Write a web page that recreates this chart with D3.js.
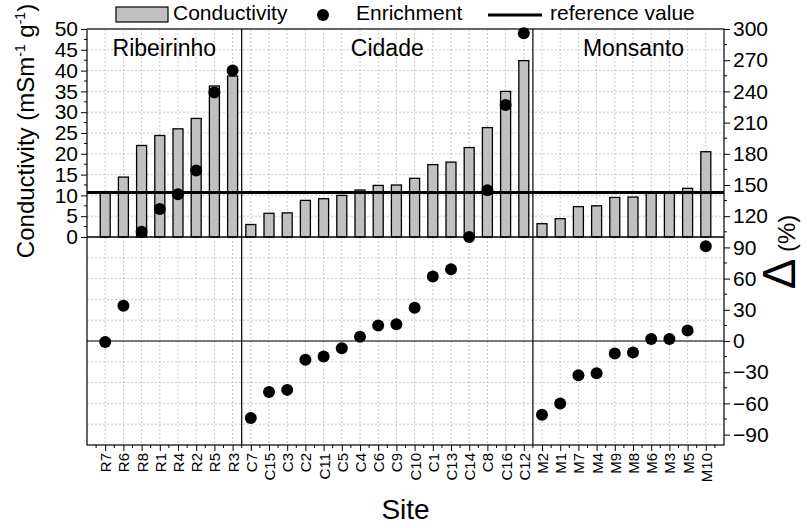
<!DOCTYPE html>
<html>
<head>
<meta charset="utf-8">
<script src="https://cdn.jsdelivr.net/npm/d3@7"></script>
<style>
  body { margin: 0; background: #fff; }
  svg text { font-family: "Liberation Sans", Arial, sans-serif; fill: #000; }
</style>
</head>
<body>
<div id="chart"></div>
<script>
// Sites, in plotted order
var sites = ["R7", "R6", "R8", "R1", "R4", "R2", "R5", "R3",
  "C7", "C15", "C3", "C2", "C11", "C5", "C4", "C6", "C9", "C10", "C1", "C13", "C14", "C8", "C16", "C12",
  "M2", "M1", "M7", "M4", "M9", "M8", "M6", "M3", "M5", "M10"];

// Conductivity (mS m-1 g-1), bars, left axis
var conductivity = [10.8, 14.4, 22.0, 24.4, 26.0, 28.5, 36.3, 38.7,
  3.0, 5.7, 5.8, 8.8, 9.2, 10.0, 11.3, 12.4, 12.5, 14.1, 17.4, 18.0, 21.5, 26.3, 35.0, 42.4,
  3.2, 4.4, 7.3, 7.5, 9.5, 9.6, 10.7, 10.7, 11.7, 20.5];

// Enrichment delta (%), dots, right axis
var enrichment = [-1, 34, 105, 127, 141, 164, 239, 260,
  -74, -49, -47, -18, -15, -7, 4, 15, 16, 32, 62, 69, 100, 145, 227, 296,
  -71, -60, -33, -31, -12, -11, 2, 2, 10, 91];

var groupNames = ["Ribeirinho", "Cidade", "Monsanto"];
var groupSizes = [8, 16, 10];
var referenceValue = 10.7;

var leftTicks = [0, 5, 10, 15, 20, 25, 30, 35, 40, 45, 50];
var rightTicks = [-90, -60, -30, 0, 30, 60, 90, 120, 150, 180, 210, 240, 270, 300];

var W = 807, H = 528;
var margin = { top: 29, right: 83, bottom: 83, left: 87 };
var width = W - margin.left - margin.right;
var height = H - margin.top - margin.bottom;

var svg = d3.select("#chart").append("svg")
  .attr("width", W)
  .attr("height", H);

var g = svg.append("g")
  .attr("transform", "translate(" + margin.left + "," + margin.top + ")");

// scales
var x = d3.scalePoint().domain(sites).range([0, width]).padding(1);
var step = x.step();
var yL = d3.scaleLinear().domain([-50, 50]).range([height, 0]);
var yR = d3.scaleLinear().domain([-100, 300]).range([height, 0]);

// grid (dotted)
var grid = g.append("g").attr("class", "grid");
grid.selectAll("line.v")
  .data(sites)
  .enter().append("line")
  .attr("x1", function(d) { return x(d); })
  .attr("x2", function(d) { return x(d); })
  .attr("y1", 0).attr("y2", height)
  .attr("stroke", "#c8c8c8").attr("stroke-width", 1).attr("stroke-dasharray", "2,2");
grid.selectAll("line.h")
  .data(d3.range(-45, 50, 5).filter(function(v) { return v !== 0; }))
  .enter().append("line")
  .attr("x1", 0).attr("x2", width)
  .attr("y1", function(d) { return yL(d); })
  .attr("y2", function(d) { return yL(d); })
  .attr("stroke", "#c8c8c8").attr("stroke-width", 1).attr("stroke-dasharray", "2,2");

// bars
g.selectAll("rect.bar")
  .data(conductivity)
  .enter().append("rect")
  .attr("class", "bar")
  .attr("x", function(d, i) { return x(sites[i]) - 5; })
  .attr("width", 10)
  .attr("y", function(d) { return yL(d); })
  .attr("height", function(d) { return yL(0) - yL(d); })
  .attr("fill", "#c0c0c0")
  .attr("stroke", "#000")
  .attr("stroke-width", 1.3);

// baselines
g.append("line")
  .attr("x1", 0).attr("x2", width)
  .attr("y1", yL(0)).attr("y2", yL(0))
  .attr("stroke", "#000").attr("stroke-width", 1.5);
g.append("line")
  .attr("x1", 0).attr("x2", width)
  .attr("y1", yR(0)).attr("y2", yR(0))
  .attr("stroke", "#000").attr("stroke-width", 1.2);

// group separators
var bounds = [];
var acc = 0;
groupSizes.forEach(function(n) { bounds.push([acc, acc + n - 1]); acc += n; });
bounds.slice(1).forEach(function(b) {
  var xs = x(sites[b[0]]) - step / 2;
  g.append("line")
    .attr("x1", xs).attr("x2", xs)
    .attr("y1", 0).attr("y2", height)
    .attr("stroke", "#000").attr("stroke-width", 1.2);
});

// group labels
groupNames.forEach(function(name, k) {
  var x0 = k === 0 ? 0 : x(sites[bounds[k][0]]) - step / 2;
  var x1 = k === groupNames.length - 1 ? width : x(sites[bounds[k][1]]) + step / 2;
  g.append("text")
    .attr("x", (x0 + x1) / 2 + (k === 2 ? 5 : 0))
    .attr("y", 27)
    .attr("text-anchor", "middle")
    .style("font-size", "23px")
    .text(name);
});

// reference line
g.append("line")
  .attr("x1", 0).attr("x2", width)
  .attr("y1", yL(referenceValue)).attr("y2", yL(referenceValue))
  .attr("stroke", "#000").attr("stroke-width", 3);

// enrichment dots
g.selectAll("circle.dot")
  .data(enrichment)
  .enter().append("circle")
  .attr("class", "dot")
  .attr("cx", function(d, i) { return x(sites[i]); })
  .attr("cy", function(d) { return yR(d); })
  .attr("r", 6)
  .attr("fill", "#000");

// frame
g.append("rect")
  .attr("width", width).attr("height", height)
  .attr("fill", "none").attr("stroke", "#000").attr("stroke-width", 1.2);

// left axis
var yAxisL = d3.axisLeft(yL).tickValues(leftTicks).tickSize(6).tickPadding(3);
var gl = g.append("g").call(yAxisL);
gl.select(".domain").remove();
gl.selectAll("text").style("font-size", "21px");
g.append("g").selectAll("line")
  .data(d3.range(2.5, 50, 5))
  .enter().append("line")
  .attr("x1", -3).attr("x2", 0)
  .attr("y1", function(d) { return yL(d); })
  .attr("y2", function(d) { return yL(d); })
  .attr("stroke", "#000");

// right axis
var yAxisR = d3.axisRight(yR).tickValues(rightTicks).tickSize(6).tickPadding(3);
var gr = g.append("g").attr("transform", "translate(" + width + ",0)").call(yAxisR);
gr.select(".domain").remove();
gr.selectAll("text").style("font-size", "21px");
gr.selectAll("line.minor")
  .data(d3.range(-90, 300, 30).map(function(v) { return v + 15; }))
  .enter().append("line")
  .attr("x1", 0).attr("x2", 3)
  .attr("y1", function(d) { return yR(d); })
  .attr("y2", function(d) { return yR(d); })
  .attr("stroke", "#000");

// bottom axis
var xAxis = d3.axisBottom(x).tickSize(6).tickPadding(3);
var gx = g.append("g").attr("transform", "translate(0," + height + ")").call(xAxis);
gx.select(".domain").remove();
gx.selectAll("text")
  .style("font-size", "15px")
  .style("text-anchor", "end")
  .attr("transform", "rotate(-90)")
  .attr("x", -8)
  .attr("y", 0)
  .attr("dy", "0.36em");
gx.selectAll("line.minor")
  .data(d3.range(0, sites.length + 1))
  .enter().append("line")
  .attr("x1", function(d) { return step / 2 + d * step; })
  .attr("x2", function(d) { return step / 2 + d * step; })
  .attr("y1", 0).attr("y2", 3)
  .attr("stroke", "#000");

// axis titles
svg.append("text")
  .attr("transform", "translate(34," + (margin.top + 102) + ") rotate(-90)")
  .attr("text-anchor", "middle")
  .style("font-size", "24px")
  .html('Conductivity (mSm<tspan dy="-9" font-size="14px">-1</tspan><tspan dy="9"> g</tspan><tspan dy="-9" font-size="14px">-1</tspan><tspan dy="9">)</tspan>');

svg.append("text")
  .attr("transform", "translate(795,252) rotate(-90)")
  .attr("text-anchor", "middle")
  .style("font-size", "24px")
  .html('<tspan font-size="46px">\u0394</tspan> (%)');

svg.append("text")
  .attr("x", margin.left + width / 2)
  .attr("y", 519)
  .attr("text-anchor", "middle")
  .style("font-size", "28px")
  .text("Site");

// legend
var lg = svg.append("g");
lg.append("rect")
  .attr("x", 116).attr("y", 7).attr("width", 52).attr("height", 15)
  .attr("fill", "#c0c0c0").attr("stroke", "#000").attr("stroke-width", 1.2);
lg.append("text").attr("x", 173).attr("y", 20).style("font-size", "21px").text("Conductivity");
lg.append("circle").attr("cx", 323).attr("cy", 15).attr("r", 6).attr("fill", "#000");
lg.append("text").attr("x", 356).attr("y", 20).style("font-size", "21px").text("Enrichment");
lg.append("line")
  .attr("x1", 488).attr("x2", 542).attr("y1", 15).attr("y2", 15)
  .attr("stroke", "#000").attr("stroke-width", 3);
lg.append("text").attr("x", 550).attr("y", 20).style("font-size", "21px").text("reference value");
</script>
</body>
</html>
